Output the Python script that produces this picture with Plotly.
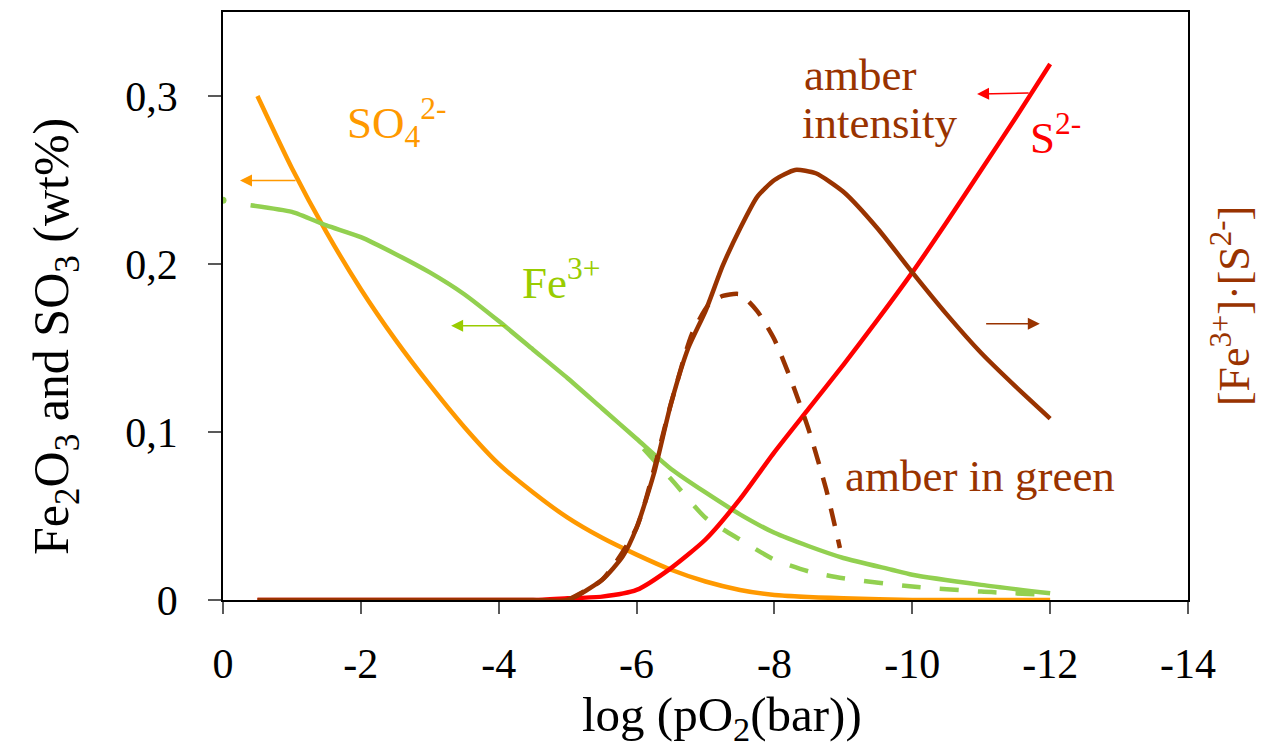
import plotly.graph_objects as go

# ---------------- data ----------------
so4_x = [-0.5, -1, -1.5, -2, -2.5, -3, -3.5, -4, -4.5, -5, -5.5, -6, -6.5, -7, -7.5, -8, -9, -10, -12]
so4_y = [0.300, 0.257, 0.219, 0.185, 0.155, 0.128, 0.103, 0.081, 0.064, 0.049, 0.037, 0.027, 0.018, 0.011, 0.006, 0.003, 0.001, 0.0, 0.0]

fe_x = [-0.4, -1, -1.5, -2, -2.5, -3, -3.5, -4, -4.5, -5, -5.5, -6, -6.5, -7, -7.5, -8, -8.5, -9, -9.7, -10, -11, -12]
fe_y = [0.235, 0.231, 0.223, 0.216, 0.206, 0.195, 0.182, 0.166, 0.149, 0.132, 0.114, 0.096, 0.078, 0.064, 0.051, 0.040, 0.032, 0.025, 0.018, 0.015, 0.009, 0.004]

fe_start_x = [0.0]
fe_start_y = [0.238]

fe_green_x = [-6.1, -6.5, -7, -7.5, -8, -8.5, -9, -10, -11, -12]
fe_green_y = [0.090, 0.072, 0.049, 0.036, 0.024, 0.017, 0.013, 0.008, 0.005, 0.003]

s_x = [-0.5, -1, -1.5, -2, -2.5, -3, -3.5, -4, -4.5, -5, -5.5, -6, -6.5, -7, -7.5,
       -8, -8.5, -9, -9.5, -10, -10.5, -11, -11.5, -12]
s_y = [0, 0, 0, 0, 0, 0, 0, 0, 0, 0.001, 0.002, 0.006, 0.019, 0.036, 0.060,
       0.088, 0.114, 0.140, 0.167, 0.195, 0.225, 0.256, 0.287, 0.319]

amber_x = [-0.5, -1, -2, -3, -4, -4.5, -5, -5.5, -5.8, -6, -6.25, -6.5, -6.75, -7, -7.25,
           -7.5, -7.75, -8, -8.3, -8.6, -9, -9.5, -10, -10.5, -11, -11.5, -12]
amber_y = [0, 0, 0, 0, 0, 0, 0, 0.012, 0.026, 0.043, 0.075, 0.117, 0.150, 0.172, 0.199,
           0.221, 0.240, 0.250, 0.256, 0.254, 0.243, 0.221, 0.195, 0.170, 0.147, 0.127, 0.108]

amber_green_x = [-5, -5.5, -6, -6.5, -6.8, -7.05, -7.25, -7.5, -7.75, -8, -8.25, -8.5, -8.75, -8.95]
amber_green_y = [0, 0.012, 0.043, 0.117, 0.158, 0.176, 0.181, 0.182, 0.172, 0.155, 0.130, 0.101, 0.066, 0.031]

x_ticks = [0, -2, -4, -6, -8, -10, -12, -14]
x_tick_text = ["0", "-2", "-4", "-6", "-8", "-10", "-12", "-14"]
y_ticks = [0, 0.1, 0.2, 0.3]
y_tick_text = ["0", "0,1", "0,2", "0,3"]

# ---------------- styles ----------------
ORANGE = "#FF9900"
GREEN = "#92D050"
GREEN_TXT = "#99CC00"
RED = "#FF0000"
BROWN = "#993300"
FONT = "Liberation Serif"
LW = 4.5
SM = 0.6

fig = go.Figure()
fig.add_trace(go.Scatter(x=so4_x, y=so4_y, mode="lines", line=dict(color=ORANGE, width=LW, shape="spline", smoothing=SM), name="SO4"))
fig.add_trace(go.Scatter(x=fe_x, y=fe_y, mode="lines", line=dict(color=GREEN, width=LW, shape="spline", smoothing=SM), name="Fe3+"))
fig.add_trace(go.Scatter(x=fe_start_x, y=fe_start_y, mode="markers", marker=dict(color=GREEN, size=7), name="Fe3+ start"))
fig.add_trace(go.Scatter(x=fe_green_x, y=fe_green_y, mode="lines", line=dict(color=GREEN, width=LW, dash="19px,19px", shape="spline", smoothing=SM), name="Fe3+ green"))
fig.add_trace(go.Scatter(x=s_x, y=s_y, mode="lines", line=dict(color=RED, width=LW, shape="spline", smoothing=SM), name="S2-"))
fig.add_trace(go.Scatter(x=amber_x, y=amber_y, mode="lines", line=dict(color=BROWN, width=LW, shape="spline", smoothing=SM), name="amber intensity", yaxis="y2"))
fig.add_trace(go.Scatter(x=amber_green_x, y=amber_green_y, mode="lines", line=dict(color=BROWN, width=LW, dash="18px,14px", shape="spline", smoothing=SM), name="amber in green", yaxis="y2"))

ann = []
def text(x, y, t, color, size=45, xanchor="left", yanchor="middle", align="left"):
    ann.append(dict(x=x, y=y, xref="x", yref="y", text=t, showarrow=False, xanchor=xanchor,
                    yanchor=yanchor, align=align, font=dict(family=FONT, size=size, color=color)))

def arrow(x0, y0, x1, y1, color):
    ann.append(dict(x=x1, y=y1, ax=x0, ay=y0, xref="x", yref="y", axref="x", ayref="y", text="",
                    showarrow=True, arrowhead=2, arrowsize=1.6, arrowwidth=1.5, arrowcolor=color))

text(-1.77, 0.284, "SO<sub>4</sub><sup>2-</sup>", ORANGE)
text(-4.31, 0.191, "Fe<sup>3+</sup>", GREEN_TXT)
text(-8.40, 0.3124, "amber", BROWN)
text(-8.37, 0.284, "intensity", BROWN)
text(-11.68, 0.277, "S<sup>2-</sup>", RED)
text(-8.99, 0.074, "amber in green", BROWN)

arrow(-1.074, 0.2497, -0.247, 0.2497, ORANGE)
arrow(-4.12, 0.1633, -3.31, 0.1633, GREEN_TXT)
arrow(-11.71, 0.3018, -10.94, 0.3012, RED)
arrow(-11.05, 0.1645, -11.85, 0.1645, BROWN)

# axis titles placed as paper-referenced annotations
ann.append(dict(x=-0.1741, y=0.449, xref="paper", yref="paper", textangle=-90, showarrow=False,
                xanchor="center", yanchor="middle",
                text="Fe<sub>2</sub>O<sub>3</sub> and SO<sub>3</sub> (wt%)",
                font=dict(family=FONT, size=50, color="black")))
ann.append(dict(x=0.517, y=-0.20, xref="paper", yref="paper", showarrow=False,
                xanchor="center", yanchor="middle",
                text="log (pO<sub>2</sub>(bar))",
                font=dict(family=FONT, size=49, color="black")))

fig.update_layout(
    width=1275, height=748,
    margin=dict(l=223, r=87, t=10, b=148),
    paper_bgcolor="white", plot_bgcolor="white",
    showlegend=False,
    separators=",.",
    font=dict(family=FONT, size=42, color="black"),
    annotations=ann,
    xaxis=dict(
        range=[0, -14], tickvals=x_ticks, ticktext=x_tick_text,
        showgrid=False, zeroline=False, showline=True, linecolor="black", linewidth=1.5,
        mirror=True, ticks="outside", ticklen=12, tickwidth=1.5, tickcolor="#595959",
        tickfont=dict(family=FONT, size=42, color="black"), ticklabelstandoff=14,
    ),
    yaxis=dict(
        range=[0, 0.35], tickvals=y_ticks, ticktext=y_tick_text,
        showgrid=False, zeroline=False, showline=True, linecolor="black", linewidth=1.5,
        mirror=True, ticks="outside", ticklen=13, tickwidth=1.5, tickcolor="#595959",
        tickfont=dict(family=FONT, size=42, color="black"), ticklabelstandoff=22,
    ),
    yaxis2=dict(
        range=[0, 0.35], overlaying="y", side="right", showgrid=False, zeroline=False,
        showline=False, showticklabels=False, ticks="",
        title=dict(text="[Fe<sup>3+</sup>]·[S<sup>2-</sup>]", font=dict(family=FONT, size=44, color=BROWN), standoff=30),
    ),
)

fig.write_html("out.html")
